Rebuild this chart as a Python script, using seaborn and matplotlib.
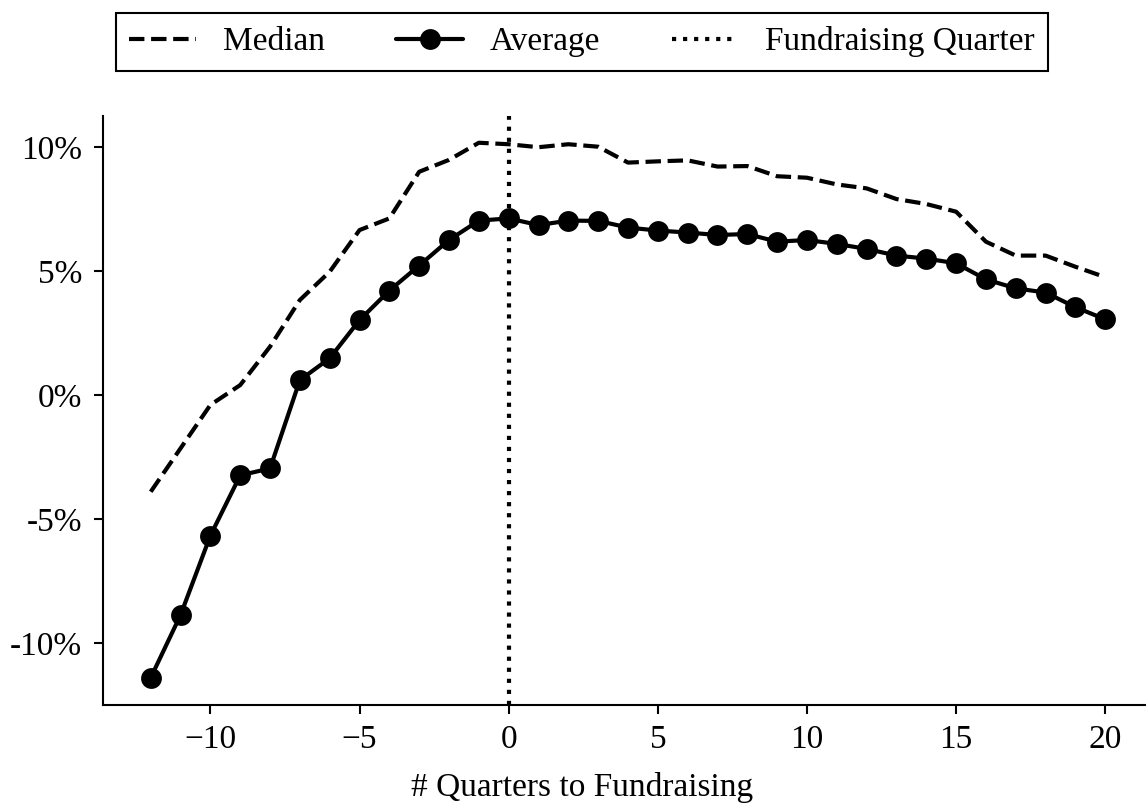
import numpy as np
import pandas as pd
import matplotlib
matplotlib.use("Agg")
import matplotlib.pyplot as plt
from matplotlib.ticker import FuncFormatter
import seaborn as sns

# Quarters relative to the fundraising quarter
quarters = list(range(-12, 21))

# Growth (in %) by quarter
median_growth = [
    -3.90, -2.15, -0.40, 0.40, 1.95, 3.83, 4.97, 6.65, 7.12, 9.00, 9.48, 10.17,
    10.11, 9.99, 10.11, 10.01, 9.37, 9.42, 9.46, 9.21, 9.23, 8.82, 8.76, 8.49,
    8.33, 7.90, 7.70, 7.39, 6.18, 5.62, 5.62, 5.17, 4.75,
]
average_growth = [
    -11.40, -8.87, -5.67, -3.24, -2.96, 0.60, 1.48, 3.02, 4.21, 5.22, 6.25, 7.03,
    7.12, 6.85, 7.03, 7.02, 6.75, 6.63, 6.55, 6.45, 6.49, 6.18, 6.25, 6.09,
    5.89, 5.62, 5.50, 5.31, 4.66, 4.30, 4.13, 3.54, 3.05,
]

fundraising_quarter = 0
y_ticks = [-10, -5, 0, 5, 10]
x_ticks = [-10, -5, 0, 5, 10, 15, 20]

df = pd.DataFrame({
    "quarter": quarters,
    "median": median_growth,
    "average": average_growth,
})

sns.set_theme(style="ticks")
plt.rcParams["font.family"] = ["Liberation Serif", "DejaVu Serif"]
plt.rcParams["font.size"] = 16
plt.rcParams["text.color"] = "black"
plt.rcParams["axes.labelcolor"] = "black"
plt.rcParams["axes.linewidth"] = 1.0
plt.rcParams["axes.edgecolor"] = "black"
plt.rcParams["xtick.major.size"] = 4.5
plt.rcParams["ytick.major.size"] = 4.5
plt.rcParams["xtick.major.width"] = 1.0
plt.rcParams["ytick.major.width"] = 1.0
plt.rcParams["xtick.major.pad"] = 5.0
plt.rcParams["ytick.major.pad"] = 5.5
plt.rcParams["xtick.color"] = "black"
plt.rcParams["ytick.color"] = "black"

fig = plt.figure(figsize=(1146 / 150, 804 / 150), dpi=150)
ax = fig.add_axes([103 / 1146, (804 - 704.5) / 804, 1050 / 1146, (704.5 - 116) / 804])

sns.lineplot(data=df, x="quarter", y="median", ax=ax, color="black",
             linestyle="--", linewidth=2, label="Median")
sns.lineplot(data=df, x="quarter", y="average", ax=ax, color="black",
             linewidth=2, marker="o", markersize=10, markeredgecolor="black",
             markeredgewidth=0, label="Average")
ax.axvline(fundraising_quarter, color="black", linestyle=":", linewidth=2,
           label="Fundraising Quarter")

ax.set_yticks(y_ticks)
ax.yaxis.set_major_formatter(FuncFormatter(lambda v, _: f"{int(round(v))}%"))
ax.set_xticks(x_ticks)
ax.tick_params(labelsize=16, colors="black")

ax.set_ylabel("")
ax.set_xlabel("# Quarters to Fundraising", fontsize=16, color="black")
ax.xaxis.set_label_coords((582 - 103) / 1050, -0.1155)

sns.despine(ax=ax)

handles, labels = ax.get_legend_handles_labels()
ax.get_legend().remove()
leg = fig.legend(handles, labels, loc="upper center", ncol=3,
                 bbox_to_anchor=(582 / 1146, 1 - 13 / 804), borderaxespad=0,
                 columnspacing=2.15, fontsize=16, frameon=True, fancybox=False,
                 edgecolor="black", framealpha=1)
leg.get_frame().set_linewidth(1.0)

fig.savefig("out.png", dpi=150)
